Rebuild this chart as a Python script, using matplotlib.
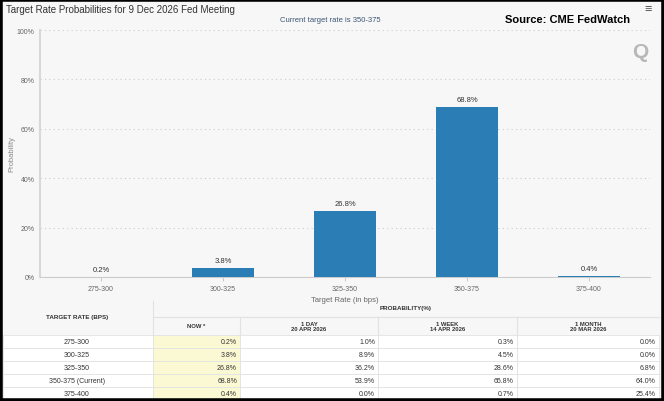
import matplotlib.pyplot as plt
from matplotlib.patches import Rectangle

plt.rcParams['font.family'] = ['Liberation Sans', 'DejaVu Sans']

# ------------------------------
# Data
# ------------------------------
rate_bins = ['275-300', '300-325', '325-350', '350-375', '375-400']
prob_now = [0.2, 3.8, 26.8, 68.8, 0.4]
prob_1day = [1.0, 8.9, 36.2, 53.9, 0.0]
prob_1week = [0.3, 4.5, 28.6, 65.8, 0.7]
prob_1month = [0.0, 0.0, 6.8, 64.0, 25.4]
table_rows = ['275-300', '300-325', '325-350', '350-375 (Current)', '375-400']
col_heads = ['NOW *', '1 DAY\n20 APR 2026', '1 WEEK\n14 APR 2026', '1 MONTH\n20 MAR 2026']

W, H = 664, 402
BG = '#f7f7f7'
BAR = '#2a7db5'
GREY_TXT = '#666666'

fig = plt.figure(figsize=(W / 100, H / 100), dpi=100)
fig.patch.set_facecolor(BG)

def fx(px):
    return px / W

def fy(py):
    return 1 - py / H

# ------------------------------
# Header texts
# ------------------------------
fig.text(fx(6), fy(10), 'Target Rate Probabilities for 9 Dec 2026 Fed Meeting',
         fontsize=7, color='#333333', va='center', ha='left')
fig.text(fx(330), fy(21), 'Current target rate is 350-375',
         fontsize=5.5, color='#3d5577', va='center', ha='center')
fig.text(fx(630), fy(20), 'Source: CME FedWatch',
         fontsize=8, color='black', weight='bold', va='center', ha='right')
fig.text(fx(648), fy(10), '\u2261', fontsize=9, color='#555555', va='center', ha='center')
fig.text(fx(640), fy(52), 'Q', fontsize=15, color='#b8b8b8', weight='bold', va='center', ha='center')

# ------------------------------
# Bar chart
# ------------------------------
ax = fig.add_axes([fx(40), fy(278), fx(650) - fx(40), fy(31) - fy(278)])
ax.set_facecolor(BG)
x = range(len(rate_bins))
bars = ax.bar(x, prob_now, width=0.51, color=BAR, zorder=3)
for xi, v in zip(x, prob_now):
    ax.text(xi, v + 1.5, f'{v:.1f}%', ha='center', va='bottom', fontsize=5.5, color='#333333', zorder=4)

ax.set_xlim(-0.5, len(rate_bins) - 0.5)
ax.set_ylim(0, 100)
ax.set_yticks([0, 20, 40, 60, 80, 100])
ax.set_yticklabels(['0%', '20%', '40%', '60%', '80%', '100%'])
ax.set_xticks(list(x))
ax.set_xticklabels(rate_bins)
ax.tick_params(axis='both', labelsize=5, colors=GREY_TXT, length=0, pad=4)
ax.tick_params(axis='x', length=3, color='#cccccc', pad=3)
ax.grid(axis='y', linestyle=(0, (1, 3)), color='#cccccc', linewidth=0.8, zorder=0)
for s in ['top', 'right']:
    ax.spines[s].set_visible(False)
ax.spines['left'].set_color('#d8d8d8')
ax.spines['left'].set_linewidth(1.5)
ax.spines['bottom'].set_color('#cccccc')
ax.set_xlabel('Target Rate (in bps)', fontsize=5.5, color=GREY_TXT, labelpad=3)
fig.text(fx(12), fy(154), 'Probability', fontsize=5.5, color='#888888',
         rotation=90, ha='center', va='center')

# ------------------------------
# Table (drawn in pixel coordinates)
# ------------------------------
tx = fig.add_axes([0, 0, 1, 1], zorder=-1)
tx.set_xlim(0, W)
tx.set_ylim(H, 0)
tx.axis('off')

col_edges = [3, 153, 240, 378, 517, 659]
row_edges = [336, 349, 362, 375, 388, 401]
line_c = '#e2e2e2'

# header backgrounds
tx.add_patch(Rectangle((3, 300), 656, 36, facecolor=BG, edgecolor='none'))
tx.add_patch(Rectangle((153, 318), 506, 18, facecolor=BG, edgecolor='none'))

# data rows
for r in range(len(table_rows)):
    y0 = row_edges[r]
    h = row_edges[r + 1] - y0
    for c in range(5):
        x0 = col_edges[c]
        w = col_edges[c + 1] - x0
        fc = '#fbf9d4' if c == 1 else 'white'
        tx.add_patch(Rectangle((x0, y0), w, h, facecolor=fc, edgecolor=line_c, linewidth=0.6))

# header lines
tx.plot([153, 153], [302, 336], color=line_c, lw=0.8)
tx.plot([153, 659], [318, 318], color=line_c, lw=0.8)
for xe in col_edges[2:-1]:
    tx.plot([xe, xe], [318, 336], color=line_c, lw=0.8)

tx.text(77, 318, 'TARGET RATE (BPS)', fontsize=4.5, weight='bold', color='#333333', ha='center', va='center')
tx.text(406, 309, 'PROBABILITY(%)', fontsize=4.5, weight='bold', color='#333333', ha='center', va='center')
for c, head in enumerate(col_heads):
    cx = (col_edges[c + 1] + col_edges[c + 2]) / 2
    tx.text(cx, 327, head, fontsize=4.2, weight='bold', color='#333333',
            ha='center', va='center', linespacing=1.0)

cols = [prob_now, prob_1day, prob_1week, prob_1month]
for r, name in enumerate(table_rows):
    cy = (row_edges[r] + row_edges[r + 1]) / 2
    tx.text(77, cy, name, fontsize=5, color='#333333', ha='center', va='center')
    for c, vals in enumerate(cols):
        tx.text(col_edges[c + 2] - 3, cy, f'{vals[r]:.1f}%', fontsize=5,
                color='#333333', ha='right', va='center')

# outer black frame
fig.patches.append(Rectangle((0, 0), 1, 1, transform=fig.transFigure,
                             fill=False, edgecolor='black', linewidth=4))

plt.savefig('out.png', dpi=100, facecolor=BG)
